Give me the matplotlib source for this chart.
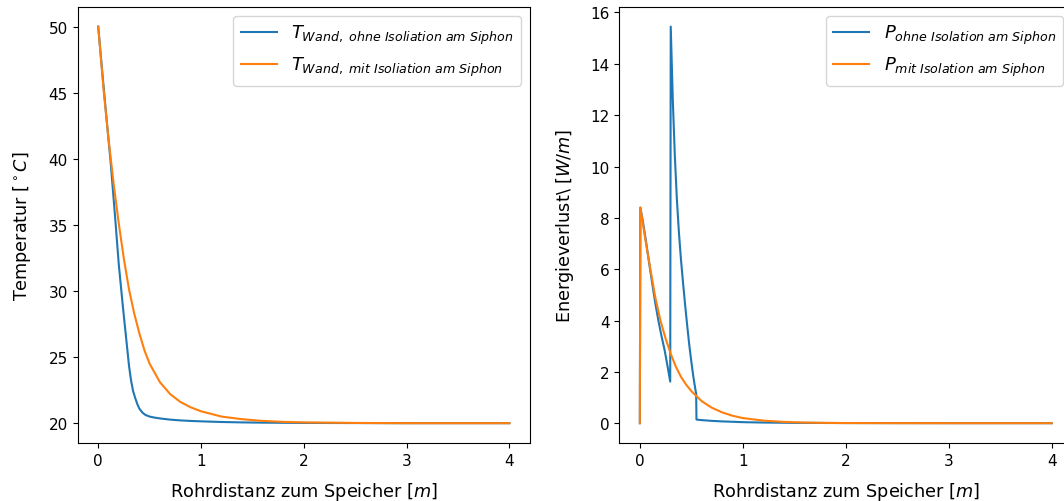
import matplotlib
matplotlib.use("Agg")
import matplotlib.pyplot as plt
from matplotlib.ticker import MultipleLocator

# Wandtemperatur entlang des Rohres
x_t_ohne = [0, 0.04, 0.08, 0.12, 0.16, 0.2, 0.24, 0.28, 0.30, 0.32, 0.34, 0.36, 0.38, 0.40,
            0.43, 0.46, 0.50, 0.55, 0.6, 0.7, 0.8, 0.9, 1.0, 1.2, 1.4, 1.6, 2.0, 2.5, 3.0, 4.0]
t_ohne = [50, 46.5, 43.1, 39.8, 36.0, 32.0, 28.8, 25.8, 24.3, 23.2, 22.4, 21.9, 21.45, 21.1,
          20.8, 20.62, 20.5, 20.42, 20.36, 20.27, 20.21, 20.17, 20.14, 20.09, 20.06, 20.04,
          20.02, 20.01, 20.0, 20.0]

x_t_mit = [0, 0.05, 0.1, 0.15, 0.2, 0.25, 0.3, 0.35, 0.4, 0.45, 0.5, 0.6, 0.7, 0.8, 0.9,
           1.0, 1.2, 1.4, 1.6, 1.8, 2.0, 2.5, 3.0, 3.5, 4.0]
t_mit = [50, 45.4, 41.5, 38.1, 35.1, 32.4, 30.1, 28.3, 26.8, 25.5, 24.5, 23.1, 22.2, 21.6,
         21.2, 20.9, 20.5, 20.3, 20.17, 20.1, 20.06, 20.02, 20.0, 20.0, 20.0]

# Energieverlust
x_p_ohne = [0, 0.005, 0.03, 0.06, 0.09, 0.12, 0.15, 0.18, 0.21, 0.24, 0.27, 0.295, 0.30,
            0.32, 0.34, 0.36, 0.38, 0.40, 0.42, 0.44, 0.46, 0.48, 0.50, 0.52, 0.54, 0.547,
            0.55, 0.6, 0.7, 0.8, 1.0, 1.2, 1.5, 2.0, 3.0, 4.0]
p_ohne = [0, 8.4, 7.85, 7.08, 6.25, 5.45, 4.68, 4.0, 3.4, 2.86, 2.2, 1.62, 15.45,
          12.6, 10.4, 8.7, 7.4, 6.35, 5.45, 4.6, 3.8, 3.05, 2.4, 1.8, 1.3, 1.15,
          0.14, 0.12, 0.09, 0.07, 0.04, 0.025, 0.013, 0.005, 0.001, 0.0]

x_p_mit = [0, 0.005, 0.05, 0.1, 0.15, 0.2, 0.25, 0.3, 0.35, 0.4, 0.45, 0.5, 0.6, 0.7, 0.8,
           0.9, 1.0, 1.2, 1.4, 1.6, 1.8, 2.0, 2.5, 3.0, 3.5, 4.0]
p_mit = [0, 8.4, 7.25, 6.05, 4.9, 4.0, 3.3, 2.7, 2.2, 1.8, 1.5, 1.25, 0.86, 0.6, 0.42,
         0.29, 0.2, 0.1, 0.05, 0.025, 0.012, 0.006, 0.001, 0, 0, 0]

plt.rcParams['font.size'] = 11
plt.rcParams['axes.labelsize'] = 12.7

fig = plt.figure(figsize=(10.64, 5.02), dpi=100)
ax1 = fig.add_axes([0.073, 0.1155, 0.4251, 0.869])
ax2 = fig.add_axes([0.582, 0.1155, 0.4258, 0.869])

ax1.plot(x_t_ohne, t_ohne, label=r'$T_{Wand,\ ohne\ Isoliation\ am\ Siphon}$')
ax1.plot(x_t_mit, t_mit, label=r'$T_{Wand,\ mit\ Isoliation\ am\ Siphon}$')
ax1.set_xlabel(r'Rohrdistanz zum Speicher [$m$]', labelpad=8.5)
ax1.set_ylabel(r'Temperatur [$^\circ C$]', labelpad=11)
ax1.xaxis.set_major_locator(MultipleLocator(1))
ax1.legend(loc='upper right', fontsize=13)

ax2.plot(x_p_ohne, p_ohne, label=r'$P_{ohne\ Isolation\ am\ Siphon}$')
ax2.plot(x_p_mit, p_mit, label=r'$P_{mit\ Isolation\ am\ Siphon}$')
ax2.set_xlabel(r'Rohrdistanz zum Speicher [$m$]', labelpad=8.5)
ax2.set_ylabel(r'Energieverlust\ [$W/m$]', labelpad=10)
ax2.xaxis.set_major_locator(MultipleLocator(1))
ax2.legend(loc='upper right', fontsize=13)

fig.savefig('out.png', dpi=100)
